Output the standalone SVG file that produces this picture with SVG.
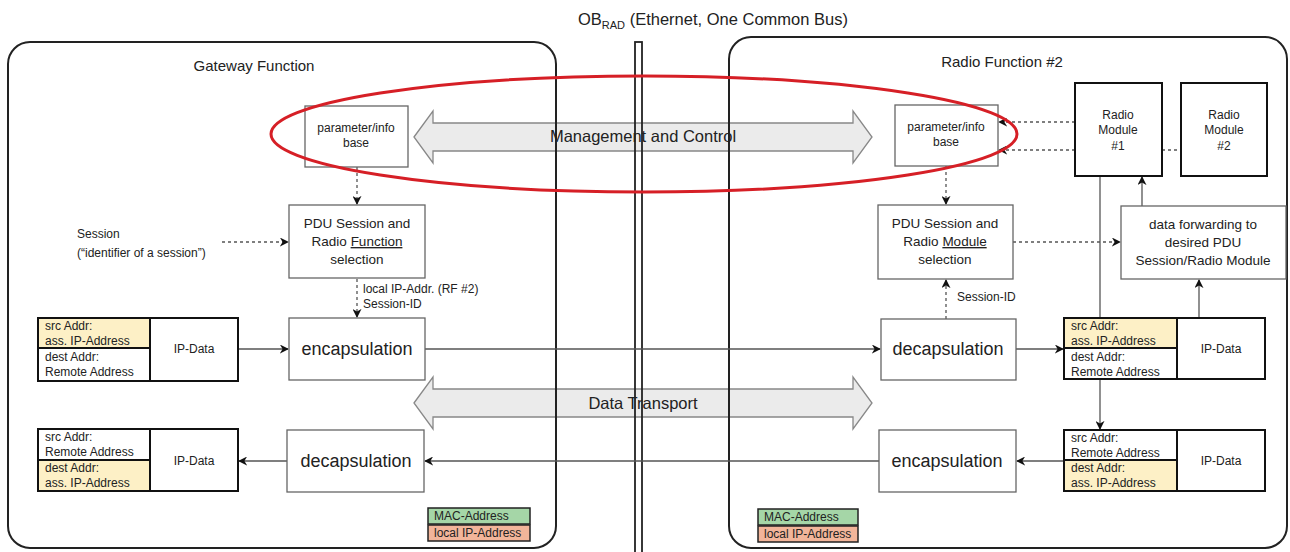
<svg xmlns="http://www.w3.org/2000/svg" width="1290" height="552" viewBox="0 0 1290 552">
  <style>
    text { font-family: "Liberation Sans", Arial, sans-serif; fill: #222; }
    .container { fill: none; stroke: #222; stroke-width: 2; }
    .box { fill: #fff; stroke: #666; stroke-width: 1.3; }
    .module { fill: #fff; stroke: #111; stroke-width: 2; }
    .bg { fill: #fff; }
    .pkt { fill: none; stroke: #111; stroke-width: 2; }
    .addr { fill: #fdf0c6; }
    .cell { stroke: #111; stroke-width: 2; fill: none; }
    .big { font-size: 18px; }
    .mid { font-size: 13.5px; }
    .small { font-size: 12px; }
    .title { font-size: 15px; }
    .flow { fill: none; stroke: #555; stroke-width: 1.3; }
    .dash { fill: none; stroke: #555; stroke-width: 1.3; stroke-dasharray: 3 3; }
    .bigarrow { fill: #ebebeb; stroke: #888; stroke-width: 1.3; }
    .mac { fill: #a5d6a7; stroke: #222; stroke-width: 1.5; }
    .lip { fill: #f2b59a; stroke: #222; stroke-width: 1.5; }
  </style>
  <defs>
    <marker id="ah" viewBox="0 0 10 10" refX="9" refY="5" markerWidth="9" markerHeight="9" markerUnits="userSpaceOnUse" orient="auto">
      <path d="M0,0 L10,5 L0,10 L3,5 z" fill="#111"/>
    </marker>
  </defs>

  <rect width="1290" height="552" fill="#fff"/>

  <!-- bus title -->
  <text x="578" y="25" font-size="16.5">OB<tspan font-size="11" dy="4">RAD</tspan><tspan dy="-4"> (Ethernet, One Common Bus)</tspan></text>

  <!-- wide double arrows (shapes; labels drawn later) -->
  <g id="mgmt-arrow">
    <path class="bigarrow" d="M414,137 L433,111 L433,123 L853,123 L853,111 L872,137 L853,163 L853,151 L433,151 L433,163 z"/>
  </g>
  <g id="data-arrow">
    <path class="bigarrow" d="M414,403 L433,377 L433,389 L853,389 L853,377 L872,403 L853,429 L853,417 L433,417 L433,429 z"/>
  </g>

  <!-- function containers and bus -->
  <g id="gateway-function">
    <rect class="container" x="8" y="42" width="548" height="506" rx="22"/>
    <text class="title" x="254" y="71" text-anchor="middle">Gateway Function</text>
  </g>
  <g id="radio-function">
    <rect class="container" x="729" y="37" width="558" height="511" rx="22"/>
    <text class="title" x="1002" y="67" text-anchor="middle">Radio Function #2</text>
  </g>
  <g id="bus">
    <rect x="635" y="42" width="7" height="520" fill="none" stroke="#222" stroke-width="1.8"/>
  </g>

  <!-- double arrow labels -->
  <text x="643" y="142" font-size="16.5" text-anchor="middle">Management and Control</text>
  <text x="643" y="409" font-size="16.5" text-anchor="middle">Data Transport</text>

  <!-- connectors -->
  <g id="connectors">
    <line class="dash" x1="357" y1="167" x2="357" y2="204" marker-end="url(#ah)"/>
    <line class="dash" x1="222" y1="242" x2="288" y2="242" marker-end="url(#ah)"/>
    <line class="dash" x1="357" y1="279" x2="357" y2="317" marker-end="url(#ah)"/>
    <line class="flow" x1="238" y1="349" x2="288" y2="349" marker-end="url(#ah)"/>
    <line class="flow" x1="425" y1="349" x2="880" y2="349" marker-end="url(#ah)"/>
    <line class="flow" x1="1016" y1="349" x2="1063" y2="349" marker-end="url(#ah)"/>
    <line class="flow" x1="879" y1="461" x2="425" y2="461" marker-end="url(#ah)"/>
    <line class="flow" x1="287" y1="461" x2="239" y2="461" marker-end="url(#ah)"/>
    <line class="flow" x1="1064" y1="461" x2="1017" y2="461" marker-end="url(#ah)"/>
    <line class="dash" x1="946" y1="166" x2="946" y2="204" marker-end="url(#ah)"/>
    <line class="dash" x1="946" y1="319" x2="946" y2="280" marker-end="url(#ah)"/>
    <line class="dash" x1="1013" y1="242" x2="1120" y2="242" marker-end="url(#ah)"/>
    <line class="dash" x1="1075" y1="122" x2="999" y2="122" marker-end="url(#ah)"/>
    <line class="dash" x1="1075" y1="150" x2="999" y2="150" marker-end="url(#ah)"/>
    <line class="dash" x1="1162" y1="150" x2="1181" y2="150"/>
    <line class="flow" x1="1142" y1="206" x2="1142" y2="177" marker-end="url(#ah)"/>
    <line class="flow" x1="1199" y1="318" x2="1199" y2="280" marker-end="url(#ah)"/>
    <line class="flow" x1="1100" y1="176" x2="1100" y2="429" marker-end="url(#ah)"/>
    <text class="small" x="363" y="293">local IP-Addr. (RF #2)</text>
    <text class="small" x="363" y="308">Session-ID</text>
    <text class="small" x="957" y="301">Session-ID</text>
  </g>

  <!-- gateway side nodes -->
  <g id="gw-param">
    <rect class="box" x="305" y="106" width="103" height="61"/>
    <text class="small" x="356" y="132" text-anchor="middle">parameter/info</text>
    <text class="small" x="356" y="147" text-anchor="middle">base</text>
  </g>
  <g id="session-input">
    <text class="small" x="77" y="238">Session</text>
    <text class="small" x="77" y="257">(“identifier of a session”)</text>
  </g>
  <g id="gw-selection">
    <rect class="box" x="289" y="205" width="136" height="73"/>
    <text class="mid" x="357" y="228" text-anchor="middle">PDU Session and</text>
    <text class="mid" x="357" y="246" text-anchor="middle">Radio <tspan text-decoration="underline">Function</tspan></text>
    <text class="mid" x="357" y="264" text-anchor="middle">selection</text>
  </g>
  <g id="gw-encap">
    <rect class="box" x="289" y="318" width="136" height="62"/>
    <text class="big" x="357" y="355" text-anchor="middle">encapsulation</text>
  </g>
  <g id="gw-decap">
    <rect class="box" x="287" y="430" width="137" height="62"/>
    <text class="big" x="356" y="467" text-anchor="middle">decapsulation</text>
  </g>
  <g id="gw-packet-out">
    <rect class="bg" x="38" y="318" width="200" height="63"/>
    <rect class="addr" x="38" y="318" width="112" height="30"/>
    <rect class="pkt" x="38" y="318" width="200" height="63"/>
    <line class="cell" x1="150" y1="318" x2="150" y2="381"/>
    <line class="cell" x1="38" y1="348" x2="150" y2="348"/>
    <text class="small" x="45" y="330">src Addr:</text>
    <text class="small" x="45" y="345">ass. IP-Address</text>
    <text class="small" x="45" y="361">dest Addr:</text>
    <text class="small" x="45" y="376">Remote Address</text>
    <text class="small" x="194" y="353" text-anchor="middle">IP-Data</text>
  </g>
  <g id="gw-packet-in">
    <rect class="bg" x="38" y="429" width="200" height="62"/>
    <rect class="addr" x="38" y="460" width="112" height="31"/>
    <rect class="pkt" x="38" y="429" width="200" height="62"/>
    <line class="cell" x1="150" y1="429" x2="150" y2="491"/>
    <line class="cell" x1="38" y1="460" x2="150" y2="460"/>
    <text class="small" x="45" y="441">src Addr:</text>
    <text class="small" x="45" y="456">Remote Address</text>
    <text class="small" x="45" y="472">dest Addr:</text>
    <text class="small" x="45" y="487">ass. IP-Address</text>
    <text class="small" x="194" y="465" text-anchor="middle">IP-Data</text>
  </g>
  <g id="gw-legend">
    <rect class="mac" x="428" y="508" width="102" height="16"/>
    <rect class="lip" x="428" y="525" width="102" height="16"/>
    <text class="small" x="434" y="520">MAC-Address</text>
    <text class="small" x="434" y="537">local IP-Address</text>
  </g>

  <!-- radio function side nodes -->
  <g id="rf-param">
    <rect class="box" x="895" y="105" width="103" height="61"/>
    <text class="small" x="946" y="131" text-anchor="middle">parameter/info</text>
    <text class="small" x="946" y="146" text-anchor="middle">base</text>
  </g>
  <g id="radio-module-1">
    <rect class="module" x="1075" y="83" width="87" height="93"/>
    <text class="small" x="1118" y="119" text-anchor="middle">Radio</text>
    <text class="small" x="1118" y="134" text-anchor="middle">Module</text>
    <text class="small" x="1118" y="150" text-anchor="middle">#1</text>
  </g>
  <g id="radio-module-2">
    <rect class="module" x="1181" y="83" width="86" height="93"/>
    <text class="small" x="1224" y="119" text-anchor="middle">Radio</text>
    <text class="small" x="1224" y="134" text-anchor="middle">Module</text>
    <text class="small" x="1224" y="150" text-anchor="middle">#2</text>
  </g>
  <g id="rf-selection">
    <rect class="box" x="878" y="205" width="135" height="74"/>
    <text class="mid" x="945" y="228" text-anchor="middle">PDU Session and</text>
    <text class="mid" x="945" y="246" text-anchor="middle">Radio <tspan text-decoration="underline">Module</tspan></text>
    <text class="mid" x="945" y="264" text-anchor="middle">selection</text>
  </g>
  <g id="rf-forwarding">
    <rect class="box" x="1121" y="206" width="165" height="73"/>
    <text class="mid" x="1203" y="229" text-anchor="middle">data forwarding to</text>
    <text class="mid" x="1203" y="247" text-anchor="middle">desired PDU</text>
    <text class="mid" x="1203" y="265" text-anchor="middle">Session/Radio Module</text>
  </g>
  <g id="rf-decap">
    <rect class="box" x="881" y="319" width="135" height="61"/>
    <text class="big" x="948" y="355" text-anchor="middle">decapsulation</text>
  </g>
  <g id="rf-encap">
    <rect class="box" x="879" y="430" width="137" height="62"/>
    <text class="big" x="947" y="467" text-anchor="middle">encapsulation</text>
  </g>
  <g id="rf-packet-in">
    <rect class="bg" x="1064" y="318" width="201" height="61"/>
    <rect class="addr" x="1064" y="318" width="113" height="30"/>
    <rect class="pkt" x="1064" y="318" width="201" height="61"/>
    <line class="cell" x1="1177" y1="318" x2="1177" y2="379"/>
    <line class="cell" x1="1064" y1="348" x2="1177" y2="348"/>
    <text class="small" x="1071" y="330">src Addr:</text>
    <text class="small" x="1071" y="345">ass. IP-Address</text>
    <text class="small" x="1071" y="361">dest Addr:</text>
    <text class="small" x="1071" y="376">Remote Address</text>
    <text class="small" x="1221" y="353" text-anchor="middle">IP-Data</text>
  </g>
  <g id="rf-packet-out">
    <rect class="bg" x="1064" y="430" width="201" height="61"/>
    <rect class="addr" x="1064" y="460" width="113" height="31"/>
    <rect class="pkt" x="1064" y="430" width="201" height="61"/>
    <line class="cell" x1="1177" y1="430" x2="1177" y2="491"/>
    <line class="cell" x1="1064" y1="460" x2="1177" y2="460"/>
    <text class="small" x="1071" y="442">src Addr:</text>
    <text class="small" x="1071" y="457">Remote Address</text>
    <text class="small" x="1071" y="472">dest Addr:</text>
    <text class="small" x="1071" y="487">ass. IP-Address</text>
    <text class="small" x="1221" y="465" text-anchor="middle">IP-Data</text>
  </g>
  <g id="rf-legend">
    <rect class="mac" x="758" y="509" width="100" height="16"/>
    <rect class="lip" x="758" y="526" width="100" height="16"/>
    <text class="small" x="764" y="521">MAC-Address</text>
    <text class="small" x="764" y="538">local IP-Address</text>
  </g>

  <!-- highlight around the management path -->
  <g id="highlight">
    <ellipse cx="644" cy="134" rx="373" ry="58" fill="none" stroke="#d61f26" stroke-width="3"/>
  </g>
</svg>
